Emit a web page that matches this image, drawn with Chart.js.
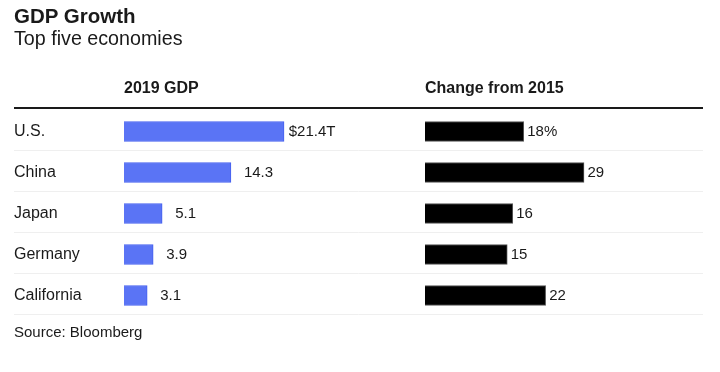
<!DOCTYPE html>
<html>
<head>
<meta charset="utf-8">
<script src="https://cdn.jsdelivr.net/npm/chart.js@4"></script>
<style>
  body { margin: 0; background: #fff; }
  #wrap { position: relative; width: 720px; height: 372px; font-family: "Liberation Sans", Arial, sans-serif; color: #1a1a1a; }
  .txt { position: absolute; line-height: 1; white-space: nowrap; }
  #title { left: 14px; top: 5.5px; font-size: 20.5px; font-weight: bold; }
  #subtitle { left: 14px; top: 28.5px; font-size: 19.7px; }
  .head { top: 79.5px; font-size: 16px; font-weight: bold; }
  #source { left: 14px; top: 324px; font-size: 15px; }
  canvas { position: absolute; left: 0; top: 0; }
</style>
</head>
<body>
<div id="wrap">
  <canvas id="gdpChart" width="720" height="372"></canvas>
  <div class="txt" id="title">GDP Growth</div>
  <div class="txt" id="subtitle">Top five economies</div>
  <div class="txt head" style="left:124px">2019 GDP</div>
  <div class="txt head" style="left:425px">Change from 2015</div>
  <div class="txt" id="source">Source: Bloomberg</div>
</div>
<script>
// Data
const economies = ['U.S.', 'China', 'Japan', 'Germany', 'California'];
const gdp2019 = [21.4, 14.3, 5.1, 3.9, 3.1];       // trillions of dollars
const changeSince2015 = [18, 29, 16, 15, 22];      // percent

// Row separators and the thick header rule
const rowLines = {
    id: 'rowLines',
    beforeDatasetsDraw(chart) {
        const ctx = chart.ctx;
        const y = chart.scales.y;
        const left = 14, right = chart.chartArea.right;
        const half = (y.getPixelForValue(1) - y.getPixelForValue(0)) / 2;
        ctx.save();
        ctx.strokeStyle = '#1a1a1a';
        ctx.lineWidth = 2;
        ctx.beginPath();
        ctx.moveTo(left, 108);
        ctx.lineTo(right, 108);
        ctx.stroke();
        ctx.strokeStyle = '#efefef';
        ctx.lineWidth = 1;
        for (let i = 0; i < economies.length; i++) {
            const yy = Math.round(y.getPixelForValue(i) + half) - 1.5;
            ctx.beginPath();
            ctx.moveTo(left, yy);
            ctx.lineTo(right, yy);
            ctx.stroke();
        }
        ctx.restore();
    }
};

// Value labels at the end of each bar
const valueLabels = {
    id: 'valueLabels',
    afterDatasetsDraw(chart) {
        const ctx = chart.ctx;
        ctx.save();
        ctx.font = '15px "Liberation Sans", Arial, sans-serif';
        ctx.fillStyle = '#1a1a1a';
        ctx.textBaseline = 'middle';
        chart.getDatasetMeta(0).data.forEach((bar, i) => {
            const x = bar.x + 13;
            ctx.textAlign = 'left';
            ctx.fillText(gdp2019[i].toFixed(1) + (i === 0 ? 'T' : ''), x, bar.y + 0.5);
            if (i === 0) {
                ctx.textAlign = 'right';
                ctx.fillText('$', x, bar.y + 0.5);
            }
        });
        chart.getDatasetMeta(1).data.forEach((bar, i) => {
            ctx.textAlign = 'left';
            ctx.fillText(changeSince2015[i] + (i === 0 ? '%' : ''), bar.x + 3.5, bar.y + 0.5);
        });
        ctx.restore();
    }
};

new Chart(document.getElementById('gdpChart'), {
    type: 'bar',
    data: {
        labels: economies,
        datasets: [{
            label: '2019 GDP',
            data: gdp2019,
            xAxisID: 'x',
            backgroundColor: '#5a74f5',
            borderColor: '#4560ef',
            borderWidth: 1,
            barThickness: 20,
            grouped: false
        }, {
            label: 'Change from 2015',
            data: changeSince2015,
            xAxisID: 'x2',
            backgroundColor: '#000',
            borderColor: '#555',
            borderWidth: 1,
            barThickness: 20,
            grouped: false
        }]
    },
    options: {
        indexAxis: 'y',
        responsive: false,
        animation: false,
        events: [],
        layout: { padding: { left: 14, right: 17, top: 111, bottom: 56 } },
        plugins: {
            legend: { display: false },
            tooltip: { enabled: false }
        },
        scales: {
            y: {
                position: 'left',
                afterFit: s => { s.width = 110; },
                grid: { display: false },
                border: { display: false },
                ticks: {
                    crossAlign: 'far',
                    color: '#1a1a1a',
                    font: { family: '"Liberation Sans", Arial, sans-serif', size: 16 }
                }
            },
            x: {
                position: 'bottom',
                stack: 'cols',
                stackWeight: 301,
                min: 0,
                max: 40.25,
                display: false
            },
            x2: {
                position: 'bottom',
                stack: 'cols',
                stackWeight: 278,
                min: 0,
                max: 50.7,
                display: false
            }
        }
    },
    plugins: [rowLines, valueLabels]
});
</script>
</body>
</html>
